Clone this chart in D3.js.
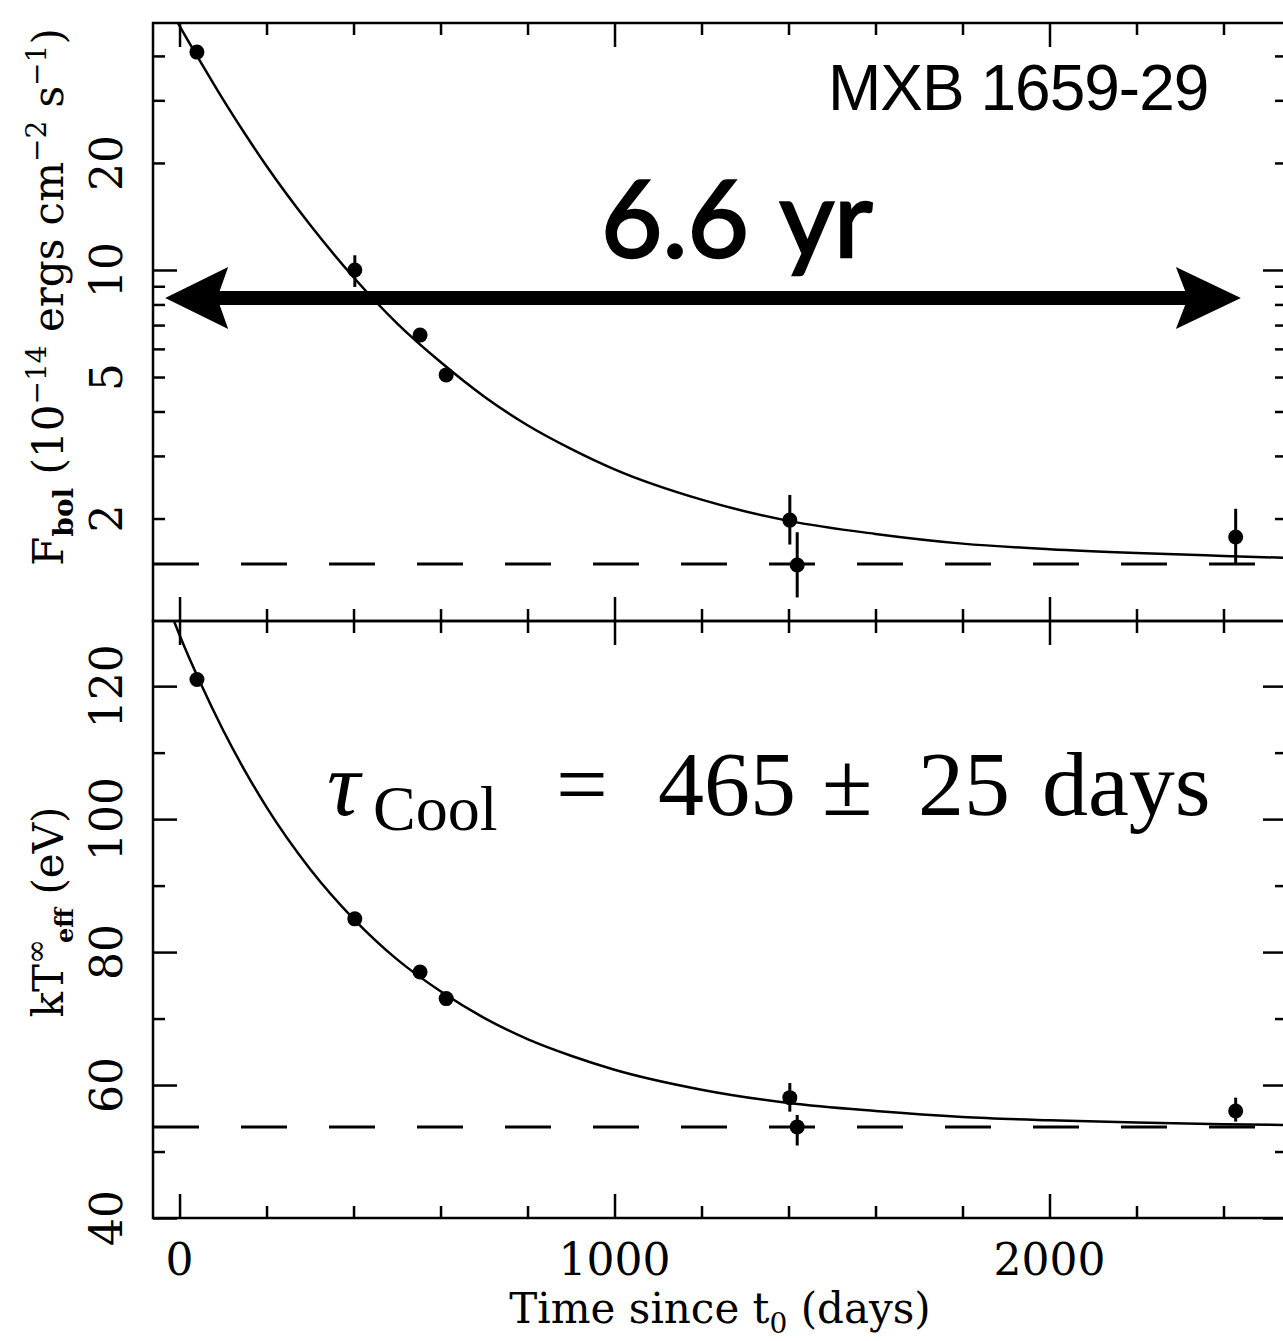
<!DOCTYPE html>
<html>
<head>
<meta charset="utf-8">
<script src="https://cdn.jsdelivr.net/npm/d3@7"></script>
<style>
  body { margin: 0; background: #fff; }
  svg { display: block; }
</style>
</head>
<body>
<div id="chart"></div>
<script>
// observation epochs (days since t0)
var obsDays = [40, 403, 553, 613, 1403, 1420, 2428];
// bolometric flux (1e-14 erg cm^-2 s^-1) with error range
var flux   = [41.0, 10.0, 6.56, 5.07, 1.98, 1.48, 1.775];
var fluxLo = [39.8, 8.96, 6.35, 4.90, 1.69, 1.20, 1.50];
var fluxHi = [42.2, 11.0, 6.80, 5.25, 2.33, 1.83, 2.13];
// effective temperature (eV) with error range
var temp   = [121.0, 85.0, 77.0, 73.0, 58.1, 53.7, 56.1];
var tempLo = [120.2, 84.3, 76.4, 72.4, 56.0, 50.9, 54.5];
var tempHi = [121.8, 85.7, 77.6, 73.6, 60.3, 55.5, 58.1];

// cooling curves, read along the drawn fit
var fitDays = [-14, 0, 50, 100, 150, 200, 300, 400, 500, 600, 700, 800, 900, 1000, 1200, 1400, 1600, 1800, 2000, 2200, 2400, 2546];
var fitFlux = [52.2, 48.6, 38.2, 30.2, 24.2, 19.6, 13.4, 9.54, 7.08, 5.51, 4.41, 3.66, 3.14, 2.75, 2.26, 1.97, 1.81, 1.70, 1.64, 1.60, 1.57, 1.55];
var fitTemp = [130, 127.7, 120.2, 113.4, 107.3, 101.8, 92.5, 85.0, 78.9, 74.1, 70.1, 66.9, 64.4, 62.3, 59.3, 57.3, 56.1, 55.2, 54.7, 54.35, 54.1, 54.0];

// constant (dashed) levels
var fluxFloor = 1.49;
var tempFloor = 53.7;

// ticks
var xMajor = [0, 1000, 2000];
var xMinor = [200, 400, 600, 800, 1200, 1400, 1600, 1800, 2200, 2400];
var fluxMajor = [10];
var fluxMinor = [2, 3, 4, 5, 6, 7, 8, 9, 20, 30, 40];
var fluxLabels = [2, 5, 10, 20];
var tempMajor = [40, 60, 80, 100, 120];
var tempMinor = [50, 70, 90, 110];

// the 6.6 yr span arrow (days, at flux level)
var arrowDays = [-33, 2440];
var arrowFlux = 8.34;

var W = 1283, H = 1341;
var left = 153, right = 1287, top0 = 23, mid = 621, bottom = 1218;
var bigTick = 24, smallTick = 12;
var tickFont = "'DejaVu Serif', serif";

var svg = d3.select('#chart').append('svg')
  .attr('width', W)
  .attr('height', H);

var x = d3.scaleLinear().domain([-61, 2546]).range([left, right]);
var yF = d3.scaleLog().domain([1.03, 49.5]).range([mid, top0]);
var yT = d3.scaleLinear().domain([40, 129.8]).range([bottom, mid]);

function tickGroup(g, axis, tr, values, size) {
  g.append('g')
    .attr('transform', tr)
    .call(axis.tickValues(values).tickSize(-size).tickFormat(''))
    .call(function(s) { s.select('.domain').remove(); })
    .selectAll('line').attr('stroke', '#000').attr('stroke-width', 2.5);
}

function panel(y, y0, y1, yMaj, yMin, id) {
  var g = svg.append('g');
  g.append('clipPath').attr('id', id)
    .append('rect').attr('x', left).attr('y', y0).attr('width', right - left).attr('height', y1 - y0);

  // ticks on all four sides, pointing inward
  tickGroup(g, d3.axisTop(x), 'translate(0,' + y0 + ')', xMajor, bigTick);
  tickGroup(g, d3.axisTop(x), 'translate(0,' + y0 + ')', xMinor, smallTick);
  tickGroup(g, d3.axisBottom(x), 'translate(0,' + y1 + ')', xMajor, bigTick);
  tickGroup(g, d3.axisBottom(x), 'translate(0,' + y1 + ')', xMinor, smallTick);
  tickGroup(g, d3.axisLeft(y), 'translate(' + left + ',0)', yMaj, bigTick);
  tickGroup(g, d3.axisLeft(y), 'translate(' + left + ',0)', yMin, smallTick);
  tickGroup(g, d3.axisRight(y), 'translate(' + right + ',0)', yMaj, bigTick);
  tickGroup(g, d3.axisRight(y), 'translate(' + right + ',0)', yMin, smallTick);

  g.append('rect')
    .attr('x', left).attr('y', y0)
    .attr('width', right - left).attr('height', y1 - y0)
    .attr('fill', 'none').attr('stroke', '#000').attr('stroke-width', 2.5);
  return g;
}

function series(g, y, vals, lo, hi, fit, floor, id) {
  var clip = g.append('g').attr('clip-path', 'url(#' + id + ')');

  clip.append('line')
    .attr('x1', x(x.domain()[0])).attr('x2', x(x.domain()[1]))
    .attr('y1', y(floor)).attr('y2', y(floor))
    .attr('stroke', '#000').attr('stroke-width', 3)
    .attr('stroke-dasharray', '46,42');

  var line = d3.line()
    .x(function(d, i) { return x(fitDays[i]); })
    .y(function(d) { return y(d); })
    .curve(d3.curveMonotoneX);
  clip.append('path')
    .attr('d', line(fit))
    .attr('fill', 'none').attr('stroke', '#000').attr('stroke-width', 2.5);

  clip.selectAll('.err').data(vals).enter().append('line')
    .attr('x1', function(d, i) { return x(obsDays[i]); })
    .attr('x2', function(d, i) { return x(obsDays[i]); })
    .attr('y1', function(d, i) { return y(lo[i]); })
    .attr('y2', function(d, i) { return y(hi[i]); })
    .attr('stroke', '#000').attr('stroke-width', 3);

  clip.selectAll('.pt').data(vals).enter().append('circle')
    .attr('cx', function(d, i) { return x(obsDays[i]); })
    .attr('cy', function(d) { return y(d); })
    .attr('r', 7.5)
    .attr('fill', '#000');
}

var gTop = panel(yF, top0, mid, fluxMajor, fluxMinor, 'clipTop');
var gBot = panel(yT, mid, bottom, tempMajor, tempMinor, 'clipBot');
series(gTop, yF, flux, fluxLo, fluxHi, fitFlux, fluxFloor, 'clipTop');
series(gBot, yT, temp, tempLo, tempHi, fitTemp, tempFloor, 'clipBot');

// x tick labels
svg.selectAll('.xlab').data(xMajor).enter().append('text')
  .attr('x', function(d) { return x(d); })
  .attr('y', 1275)
  .attr('text-anchor', 'middle')
  .style('font-family', tickFont)
  .style('font-size', '44px')
  .text(function(d) { return d; });

// rotated y tick labels
function yLabels(vals, y) {
  svg.selectAll(null).data(vals).enter().append('text')
    .attr('transform', function(d) { return 'translate(122,' + y(d) + ') rotate(-90)'; })
    .attr('text-anchor', 'middle')
    .style('font-family', tickFont)
    .style('font-size', '44px')
    .text(function(d) { return d; });
}
yLabels(fluxLabels, yF);
yLabels(tempMajor, yT);

// axis titles
var xt = svg.append('text')
  .attr('x', 720).attr('y', 1323)
  .attr('text-anchor', 'middle')
  .style('font-family', tickFont)
  .style('font-size', '42px');
xt.append('tspan').text('Time since t');
xt.append('tspan').attr('dy', 10).style('font-size', '28px').text('0');
xt.append('tspan').attr('dy', -10).text(' (days)');

var yt1 = svg.append('text')
  .attr('transform', 'translate(63,297) rotate(-90)')
  .attr('text-anchor', 'middle')
  .style('font-family', tickFont)
  .style('font-size', '42px');
yt1.append('tspan').text('F');
yt1.append('tspan').attr('dy', 10).style('font-size', '28px').style('font-weight', 'bold').text('bol');
yt1.append('tspan').attr('dy', -10).text(' (10');
yt1.append('tspan').attr('dy', -17).style('font-size', '28px').text('\u221214');
yt1.append('tspan').attr('dy', 17).text(' ergs cm');
yt1.append('tspan').attr('dy', -17).style('font-size', '28px').text('\u22122');
yt1.append('tspan').attr('dy', 17).text(' s');
yt1.append('tspan').attr('dy', -17).style('font-size', '28px').text('\u22121');
yt1.append('tspan').attr('dy', 17).text(')');

var yt2 = svg.append('text')
  .attr('transform', 'translate(63,912) rotate(-90)')
  .attr('text-anchor', 'middle')
  .style('font-family', tickFont)
  .style('font-size', '42px');
yt2.append('tspan').text('kT');
yt2.append('tspan').attr('dy', -17).style('font-size', '30px').text('\u221e');
yt2.append('tspan').attr('dy', 27).attr('dx', -4).style('font-size', '24px').style('font-weight', 'bold').text('eff');
yt2.append('tspan').attr('dy', -10).text(' (eV)');

// annotations
svg.append('text')
  .attr('x', 828).attr('y', 110)
  .style('font-family', "'Liberation Sans', Arial, sans-serif")
  .style('font-size', '64px')
  .style('letter-spacing', '-1px')
  .text('MXB 1659-29');

svg.append('text')
  .attr('x', 601).attr('y', 257)
  .style('font-family', "Lato, 'Open Sans', sans-serif")
  .style('font-size', '106px')
  .style('stroke', '#000')
  .style('stroke-width', '2.5px')
  .style('word-spacing', '6px')
  .text('6.6 yr');

var ax1 = x(arrowDays[0]), ax2 = x(arrowDays[1]), ay = yF(arrowFlux);
svg.append('rect')
  .attr('x', ax1 + 40).attr('y', ay - 7)
  .attr('width', ax2 - ax1 - 80).attr('height', 14)
  .attr('fill', '#000');
svg.append('path')
  .attr('d', 'M' + ax1 + ',' + ay + 'L' + (ax1 + 63) + ',' + (ay - 31) + 'L' + (ax1 + 52) + ',' + ay +
             'L' + (ax1 + 63) + ',' + (ay + 31) + 'Z')
  .attr('fill', '#000');
svg.append('path')
  .attr('d', 'M' + ax2 + ',' + ay + 'L' + (ax2 - 65) + ',' + (ay - 31) + 'L' + (ax2 - 53) + ',' + ay +
             'L' + (ax2 - 65) + ',' + (ay + 31) + 'Z')
  .attr('fill', '#000');

var tau = svg.append('text')
  .attr('y', 815)
  .style('font-family', "'Liberation Serif', 'Times New Roman', serif")
  .style('font-size', '92px');
tau.append('tspan').attr('x', 327).style('font-style', 'italic').text('\u03c4');
tau.append('tspan').attr('x', 373).attr('dy', 15).style('font-size', '64px').text('Cool');
tau.append('tspan').attr('x', 556).attr('dy', -15).text('=');
tau.append('tspan').attr('x', 658).text('465');
tau.append('tspan').attr('x', 822).text('\u00b1');
tau.append('tspan').attr('x', 918).text('25');
tau.append('tspan').attr('x', 1042).text('days');
</script>
</body>
</html>
